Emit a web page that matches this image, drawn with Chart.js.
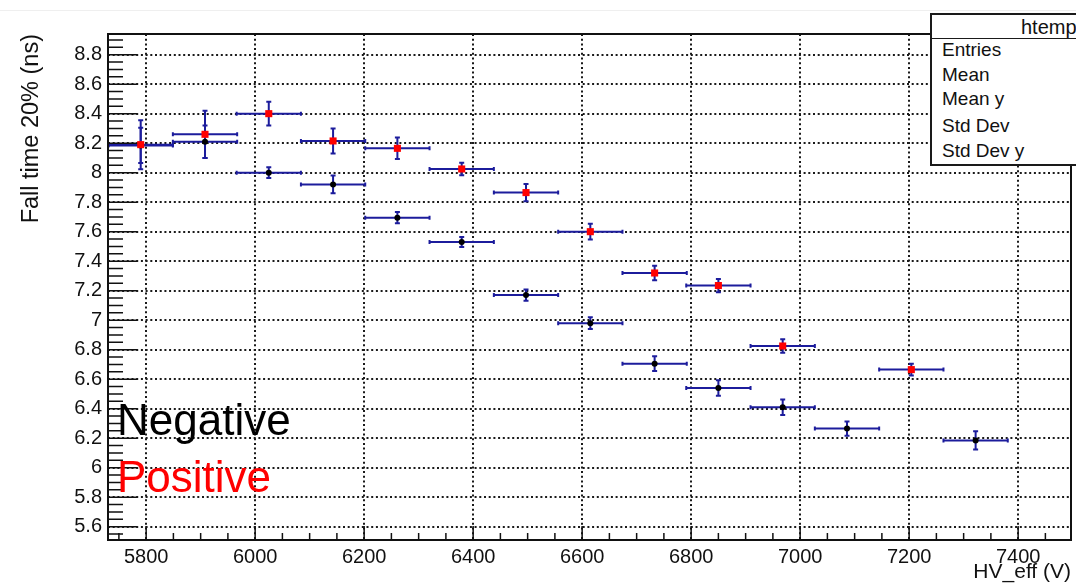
<!DOCTYPE html>
<html>
<head>
<meta charset="utf-8">
<title>Fall time 20% vs HV_eff</title>
<script src="https://cdn.jsdelivr.net/npm/chart.js@4.4.1/dist/chart.umd.min.js"></script>
<style>
    html, body { margin: 0; padding: 0; background: #fff; overflow: hidden; }
    #wrap { position: relative; width: 1076px; height: 585px; font-family: "Liberation Sans", Arial, sans-serif; }
    #topRule { position: absolute; left: 0; top: 10px; width: 1076px; height: 1px; background: #efefef; }
    .bigLabel { position: absolute; left: 117px; font-size: 44px; line-height: 44px; white-space: nowrap; }
    #stats { position: absolute; left: 930px; top: 13px; width: 240px; height: 149px; border: 2px solid #1a1a1a; background: #fff; color: #111; }
    #stats .head { position: absolute; left: 0; top: 0; width: 100%; height: 23px; border-bottom: 1.5px solid #1a1a1a; }
    #stats .head span { position: absolute; left: 89px; top: 1px; font-size: 20px; line-height: 22px; }
    #stats .row { position: absolute; left: 10px; font-size: 19px; line-height: 20px; white-space: nowrap; }
</style>
</head>
<body>
<div id="wrap">
    <div id="topRule"></div>
    <canvas id="fallChart" width="1076" height="585"></canvas>
    <div class="bigLabel" style="top:398px; color:#000;">Negative</div>
    <div class="bigLabel" style="top:455px; color:#ff0000;">Positive</div>
    <div id="stats">
        <div class="head"><span>htemp</span></div>
        <div class="row" style="top:25px;">Entries</div>
        <div class="row" style="top:50px;">Mean</div>
        <div class="row" style="top:74px;">Mean y</div>
        <div class="row" style="top:101px;">Std Dev</div>
        <div class="row" style="top:126px;">Std Dev y</div>
    </div>
</div>
<script>
// values
const hvNeg  = [5790, 5908, 6025, 6143, 6261, 6379, 6497, 6615, 6733, 6850, 6968, 7086, 7322];
const ftNeg  = [8.185, 8.21, 8.00, 7.92, 7.695, 7.53, 7.17, 6.98, 6.705, 6.54, 6.41, 6.265, 6.185];
const errNeg = [0.12, 0.11, 0.036, 0.06, 0.038, 0.034, 0.038, 0.04, 0.05, 0.053, 0.053, 0.049, 0.062];

const hvPos  = [5790, 5908, 6025, 6143, 6261, 6379, 6497, 6615, 6733, 6850, 6968, 7204];
const ftPos  = [8.19, 8.26, 8.40, 8.215, 8.165, 8.025, 7.865, 7.60, 7.32, 7.235, 6.825, 6.665];
const errPos = [0.166, 0.16, 0.08, 0.085, 0.073, 0.043, 0.059, 0.053, 0.049, 0.045, 0.045, 0.04];

const hvHalfWidth = 59;   // horizontal error bar (bin half width)

const xTicks = [5800, 6000, 6200, 6400, 6600, 6800, 7000, 7200, 7400];

const fontFamily = '"Liberation Sans", Arial, sans-serif';
const errColor = '#1c1c9c';
const axisColor = '#111';

function toPoints(hv, ft, err) {
    return hv.map((v, i) => ({ x: v, y: ft[i], xErr: hvHalfWidth, yErr: err[i] }));
}

// ROOT style error crosses, drawn under the markers
const errorBars = {
    id: 'errorBars',
    beforeDatasetsDraw(chart) {
        const { ctx, chartArea: a, scales: { x, y } } = chart;
        ctx.save();
        ctx.beginPath();
        ctx.rect(a.left, a.top, a.right - a.left, a.bottom - a.top);
        ctx.clip();
        ctx.strokeStyle = errColor;
        ctx.lineWidth = 2;
        chart.data.datasets.forEach(ds => {
            ds.data.forEach(p => {
                const cx = x.getPixelForValue(p.x);
                const cy = y.getPixelForValue(p.y);
                const x0 = x.getPixelForValue(p.x - p.xErr);
                const x1 = x.getPixelForValue(p.x + p.xErr);
                const y0 = y.getPixelForValue(p.y - p.yErr);
                const y1 = y.getPixelForValue(p.y + p.yErr);
                ctx.beginPath();
                ctx.moveTo(x0, cy); ctx.lineTo(x1, cy);
                ctx.moveTo(cx, y0); ctx.lineTo(cx, y1);
                ctx.moveTo(x0, cy - 2); ctx.lineTo(x0, cy + 2);
                ctx.moveTo(x1, cy - 2); ctx.lineTo(x1, cy + 2);
                ctx.moveTo(cx - 2.5, y0); ctx.lineTo(cx + 2.5, y0);
                ctx.moveTo(cx - 2.5, y1); ctx.lineTo(cx + 2.5, y1);
                ctx.stroke();
            });
        });
        ctx.restore();
    }
};

// inward ticks + frame like a ROOT canvas
const rootFrame = {
    id: 'rootFrame',
    afterDraw(chart) {
        const { ctx, chartArea: a, scales: { x, y } } = chart;
        ctx.save();
        ctx.strokeStyle = axisColor;
        ctx.lineWidth = 1.5;
        ctx.beginPath();
        for (let v = Math.ceil(x.min / 50) * 50; v <= x.max; v += 50) {
            const px = x.getPixelForValue(v);
            const len = v % 200 === 0 ? 14 : 7;
            ctx.moveTo(px, a.bottom);
            ctx.lineTo(px, a.bottom - len);
        }
        for (let i = Math.ceil(y.min / 0.05 - 1e-6); i * 0.05 <= y.max + 1e-9; i++) {
            const py = y.getPixelForValue(i * 0.05);
            const len = i % 4 === 0 ? 29 : 15;
            ctx.moveTo(a.left, py);
            ctx.lineTo(a.left + len, py);
        }
        ctx.stroke();
        ctx.lineWidth = 2;
        ctx.strokeRect(a.left, a.top, a.right - a.left, a.bottom - a.top);
        ctx.restore();
    }
};

const ctx = document.getElementById('fallChart').getContext('2d');

new Chart(ctx, {
    type: 'scatter',
    data: {
        datasets: [
            {
                label: 'Positive',
                data: toPoints(hvPos, ftPos, errPos),
                pointStyle: 'rect',
                pointRadius: 5,
                backgroundColor: '#ff0000',
                borderColor: '#ff0000',
                borderWidth: 0
            },
            {
                label: 'Negative',
                data: toPoints(hvNeg, ftNeg, errNeg),
                pointStyle: 'circle',
                pointRadius: 3,
                backgroundColor: '#000000',
                borderColor: '#000000',
                borderWidth: 0
            }
        ]
    },
    options: {
        responsive: false,
        animation: false,
        devicePixelRatio: 1,
        events: [],
        layout: { padding: { top: 34, right: 3, left: 0, bottom: 0 } },
        plugins: {
            legend: { display: false },
            tooltip: { enabled: false }
        },
        scales: {
            x: {
                type: 'linear',
                min: 5730,
                max: 7497,
                afterFit: scale => { scale.height = 45; },
                afterBuildTicks: scale => { scale.ticks = xTicks.map(v => ({ value: v })); },
                ticks: {
                    color: '#111',
                    padding: 5,
                    maxRotation: 0,
                    autoSkip: false,
                    font: { family: fontFamily, size: 20 },
                    callback: v => String(v)
                },
                grid: { color: '#1a1a1a', lineWidth: 2, drawTicks: false },
                border: { display: false, dash: [2, 2.7] },
                title: {
                    display: true,
                    text: 'HV_eff (V)',
                    align: 'end',
                    color: '#111',
                    padding: 0,
                    font: { family: fontFamily, size: 21 }
                }
            },
            y: {
                type: 'linear',
                min: 5.51,
                max: 8.94,
                afterFit: scale => { scale.width = 108; },
                ticks: {
                    stepSize: 0.2,
                    includeBounds: false,
                    color: '#111',
                    padding: 6,
                    font: { family: fontFamily, size: 20 },
                    callback: v => String(Math.round(v * 10) / 10)
                },
                grid: { color: '#1a1a1a', lineWidth: 2, drawTicks: false },
                border: { display: false, dash: [2, 2.7] },
                title: {
                    display: true,
                    text: 'Fall time 20% (ns)',
                    align: 'end',
                    color: '#111',
                    padding: { top: 17, bottom: 0 },
                    font: { family: fontFamily, size: 23.5 }
                }
            }
        }
    },
    plugins: [errorBars, rootFrame]
});
</script>
</body>
</html>
